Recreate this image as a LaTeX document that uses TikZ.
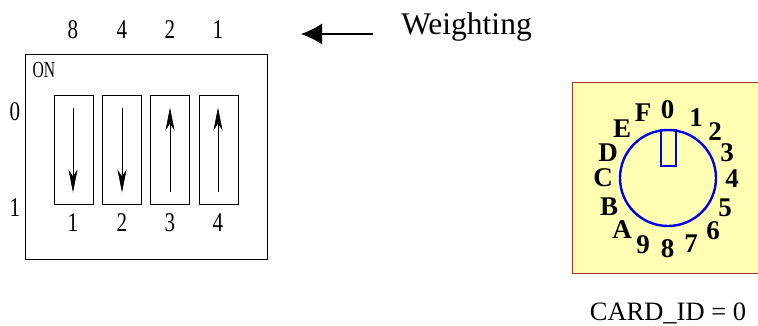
\documentclass[tikz,border=0pt]{standalone}
\usepackage{fontspec}
\usetikzlibrary{arrows.meta}
\setmainfont{Liberation Serif}
\definecolor{panelfill}{HTML}{FFFFB3}
\definecolor{paneledge}{HTML}{A83232}
\definecolor{dialblue}{HTML}{0000E6}
\tikzset{
  x=1pt,y=-1pt,
  cond/.style={inner sep=0pt,font=\fontsize{27}{27}\selectfont,xscale=0.78},
  condsm/.style={inner sep=0pt,font=\fontsize{23}{23}\selectfont,xscale=0.68},
  dig/.style={inner sep=0pt,font=\fontsize{27}{27}\selectfont\bfseries},
  rm/.style={inner sep=0pt,anchor=center},
  swbox/.style={draw=black,line width=0.9pt,minimum width=39pt,minimum height=109pt,inner sep=0pt},
  swarrow/.style={line width=0.6pt,-{Stealth[length=23pt,width=9pt,inset=7pt]}},
}
\begin{document}
\begin{tikzpicture}
\useasboundingbox (0,0) rectangle (758,325);
\node[draw=black,line width=0.9pt,minimum width=242pt,minimum height=205pt,inner sep=0pt] (outer) at (146,156.5) {};
\node[swbox] (s1) at (73.5,149.5) {};
\node[swbox] (s2) at (121.5,149.5) {};
\node[swbox] (s3) at (169.5,149.5) {};
\node[swbox] (s4) at (218.5,149.5) {};
\coordinate (a1t) at (73,108); \coordinate (a1b) at (73,192.5);
\coordinate (a2t) at (122,108); \coordinate (a2b) at (122,192.5);
\coordinate (a3t) at (170,107.5); \coordinate (a3b) at (170,192);
\coordinate (a4t) at (218,107.5); \coordinate (a4b) at (218,192);
\draw[swarrow] (a1t) -- (a1b);
\draw[swarrow] (a2t) -- (a2b);
\draw[swarrow] (a3b) -- (a3t);
\draw[swarrow] (a4b) -- (a4t);
\node[cond] (w8) at (73,29.5) {8};
\node[cond] (w4) at (122,29.5) {4};
\node[cond] (w2) at (170,29.5) {2};
\node[cond] (w1) at (218,29.5) {1};
\node[cond] (l0) at (15,112) {0};
\node[cond] (l1) at (15,208) {1};
\node[condsm] (on) at (44,70) {ON};
\node[cond] (n1) at (73,222.5) {1};
\node[cond] (n2) at (122,222.5) {2};
\node[cond] (n3) at (170,222.5) {3};
\node[cond] (n4) at (218,222.5) {4};
\coordinate (wa) at (373,34);
\coordinate (wb) at (301,34);
\draw[line width=1.1pt,-{Latex[length=21pt,width=21pt]}] (wa) -- (wb);
\node[rm,font=\fontsize{31.5}{31.5}\selectfont] (wt) at (466.5,27) {Weighting};
\node[draw=paneledge,fill=panelfill,line width=0.8pt,minimum width=187pt,minimum height=191pt,inner sep=0pt] (panel) at (665.5,177.5) {};
\node[draw=dialblue,line width=2.4pt,circle,minimum size=96pt,inner sep=0pt] (dial) at (668,178) {};
\node[draw=dialblue,line width=1.6pt,minimum width=15pt,minimum height=36pt,inner sep=0pt] (slot) at (668.5,148) {};
\node[dig] (d0) at (667.5,110) {0};
\node[dig] (d1) at (696,118) {1};
\node[dig] (d2) at (715,132) {2};
\node[dig] (d3) at (727,152.5) {3};
\node[dig] (d4) at (732,178.5) {4};
\node[dig] (d5) at (725,207.5) {5};
\node[dig] (d6) at (713,230.5) {6};
\node[dig] (d7) at (691,243.5) {7};
\node[dig] (d8) at (667.5,248.5) {8};
\node[dig] (d9) at (643,245) {9};
\node[dig] (dA) at (622,230) {A};
\node[dig] (dB) at (609,207) {B};
\node[dig] (dC) at (603,178) {C};
\node[dig] (dD) at (608,153) {D};
\node[dig] (dE) at (622,129) {E};
\node[dig] (dF) at (643,113) {F};
\node[rm,font=\fontsize{26.5}{26.5}\selectfont] (card) at (668,313.5) {CARD\_ID = 0};
\end{tikzpicture}
\end{document}
